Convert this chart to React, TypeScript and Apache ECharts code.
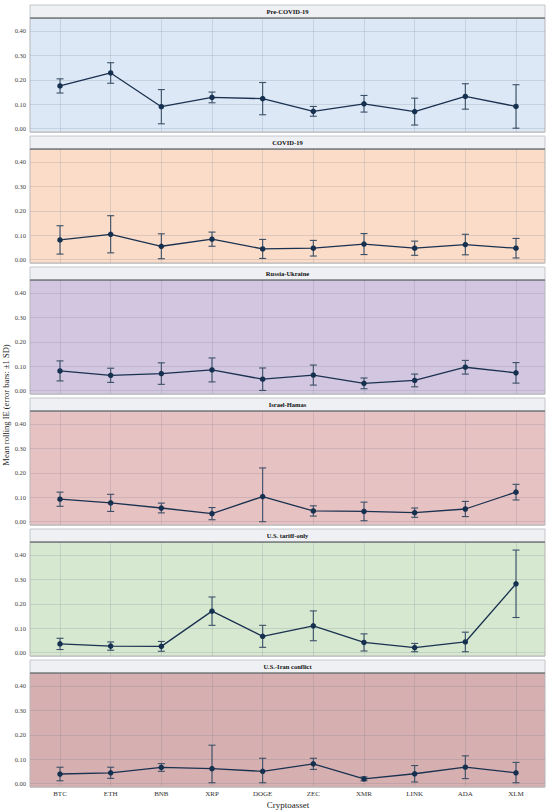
import React, { useEffect, useRef } from "react";
import * as echarts from "echarts";

const categories = ["BTC", "ETH", "BNB", "XRP", "DOGE", "ZEC", "XMR", "LINK", "ADA", "XLM"];
const panelTitles = ["Pre-COVID-19", "COVID-19", "Russia-Ukraine", "Israel-Hamas", "U.S. tariff-only", "U.S.-Iran conflict"];
const panelColors = ["#dde8f6", "#fadcc8", "#d3c6e0", "#e7c2c3", "#d7e8d1", "#d6b0b1"];

const preCovidMean = [0.175, 0.228, 0.090, 0.128, 0.123, 0.071, 0.102, 0.070, 0.132, 0.091];
const preCovidSd = [0.029, 0.042, 0.070, 0.022, 0.066, 0.020, 0.034, 0.055, 0.052, 0.089];
const covidMean = [0.081, 0.104, 0.055, 0.084, 0.044, 0.047, 0.064, 0.047, 0.062, 0.047];
const covidSd = [0.058, 0.076, 0.051, 0.029, 0.039, 0.032, 0.043, 0.029, 0.042, 0.040];
const russiaMean = [0.081, 0.063, 0.070, 0.085, 0.047, 0.064, 0.030, 0.042, 0.096, 0.073];
const russiaSd = [0.041, 0.029, 0.044, 0.049, 0.046, 0.041, 0.022, 0.026, 0.028, 0.042];
const israelMean = [0.092, 0.077, 0.056, 0.033, 0.103, 0.044, 0.042, 0.037, 0.052, 0.121];
const israelSd = [0.029, 0.035, 0.020, 0.025, 0.117, 0.021, 0.038, 0.019, 0.031, 0.032];
const tariffMean = [0.036, 0.027, 0.026, 0.170, 0.067, 0.110, 0.042, 0.021, 0.044, 0.282];
const tariffSd = [0.023, 0.017, 0.020, 0.058, 0.045, 0.061, 0.035, 0.017, 0.040, 0.138];
const iranMean = [0.036, 0.041, 0.063, 0.058, 0.047, 0.078, 0.016, 0.037, 0.064, 0.041];
const iranSd = [0.028, 0.023, 0.016, 0.097, 0.054, 0.023, 0.008, 0.034, 0.047, 0.043];

const means = [preCovidMean, covidMean, russiaMean, israelMean, tariffMean, iranMean];
const sds = [preCovidSd, covidSd, russiaSd, israelSd, tariffSd, iranSd];

const Y_MIN = -0.0135;
const Y_MAX = 0.453;
const SERIF = "'Liberation Serif', 'DejaVu Serif', serif";

export default function App() {
  const ref = useRef<HTMLDivElement>(null);
  useEffect(() => {
    if (!ref.current) return;
    const chart = echarts.init(ref.current, undefined, { renderer: "svg" });
    const grids: any[] = [];
    const xAxes: any[] = [];
    const yAxes: any[] = [];
    const series: any[] = [];
    const graphics: any[] = [];
    const pitch = 131;
    for (let i = 0; i < 6; i++) {
      const top = 18 + pitch * i;
      const isLast = i === 5;
      grids.push({
        left: 30, top, width: 515, height: 114, show: true,
        backgroundColor: panelColors[i], borderColor: "#b5b5b5", borderWidth: 1,
      });
      grids.push({ left: 60, top, width: 456, height: 114, show: false });
      xAxes.push({ gridIndex: 2 * i, type: "value", min: 0, max: 1, show: false });
      yAxes.push({
        gridIndex: 2 * i, type: "value", min: Y_MIN, max: Y_MAX, splitNumber: 5,
        axisLine: { show: false }, axisTick: { show: false },
        axisLabel: {
          showMinLabel: false, showMaxLabel: false, margin: 4,
          fontSize: 6.5, color: "#444", fontFamily: SERIF,
          formatter: (v: number) => {
            const r = Math.round(v * 10) / 10;
            return Math.abs(v - r) < 1e-6 ? r.toFixed(2) : "";
          },
        },
        splitLine: { show: true, lineStyle: { color: "rgba(90,100,120,0.16)", width: 1 } },
      });
      xAxes.push({
        gridIndex: 2 * i + 1, type: "value", min: 0, max: 9, interval: 1,
        axisLine: { show: false }, axisTick: { show: false },
        axisLabel: {
          show: isLast, margin: 4, fontSize: 7, color: "#333", fontFamily: SERIF,
          formatter: (v: number) => categories[Math.round(v)] ?? "",
        },
        splitLine: { show: true, lineStyle: { color: "rgba(90,100,120,0.16)", width: 1 } },
        name: isLast ? "Cryptoasset" : "",
        nameLocation: "middle", nameGap: 14,
        nameTextStyle: { fontSize: 9, color: "#222", fontFamily: SERIF },
      });
      yAxes.push({ gridIndex: 2 * i + 1, type: "value", min: Y_MIN, max: Y_MAX, show: false, splitLine: { show: false } });

      const m = means[i];
      const s = sds[i];
      series.push({
        type: "custom",
        xAxisIndex: 2 * i + 1, yAxisIndex: 2 * i + 1,
        data: m.map((v, j) => [j, Math.max(0, v - s[j]), v + s[j]]),
        renderItem: (params: any, api: any) => {
          const x = api.value(0);
          const lo = api.coord([x, api.value(1)]);
          const hi = api.coord([x, api.value(2)]);
          const cw = 3.5;
          const style = { stroke: "#3a4f66", lineWidth: 1.1 };
          return {
            type: "group",
            children: [
              { type: "line", shape: { x1: lo[0], y1: lo[1], x2: hi[0], y2: hi[1] }, style },
              { type: "line", shape: { x1: lo[0] - cw, y1: lo[1], x2: lo[0] + cw, y2: lo[1] }, style },
              { type: "line", shape: { x1: hi[0] - cw, y1: hi[1], x2: hi[0] + cw, y2: hi[1] }, style },
            ],
          };
        },
        z: 2,
        silent: true,
      });
      series.push({
        type: "line",
        xAxisIndex: 2 * i + 1, yAxisIndex: 2 * i + 1,
        data: m.map((v, j) => [j, v]),
        symbol: "circle", symbolSize: 5.5,
        itemStyle: { color: "#16304f" },
        lineStyle: { color: "#1a3150", width: 1.3 },
        z: 3,
        silent: true,
      });

      graphics.push({
        type: "rect", shape: { x: 30, y: 5 + pitch * i, width: 515, height: 13 },
        style: { fill: "#eef0f3", stroke: "#c4c7cc", lineWidth: 1 },
      });
      graphics.push({
        type: "line", shape: { x1: 30, y1: 18 + pitch * i, x2: 545, y2: 18 + pitch * i },
        style: { stroke: "#555555", lineWidth: 1 },
      });
      graphics.push({
        type: "text", x: 287.5, y: 11.5 + pitch * i,
        style: {
          text: panelTitles[i], textAlign: "center", textVerticalAlign: "middle",
          font: `bold 6.5px ${SERIF}`, fill: "#111",
        },
      });
    }
    graphics.push({
      type: "text", x: 6, y: 405, rotation: Math.PI / 2,
      style: {
        text: "Mean rolling IE (error bars: \u00b11 SD)", textAlign: "center", textVerticalAlign: "middle",
        font: `8.5px ${SERIF}`, fill: "#222",
      },
    });

    chart.setOption({
      animation: false,
      backgroundColor: "#ffffff",
      grid: grids,
      xAxis: xAxes,
      yAxis: yAxes,
      series,
      graphic: graphics,
    });
    return () => chart.dispose();
  }, []);
  return <div ref={ref} style={{ position: "absolute", left: 0, top: 0, width: 550, height: 810 }} />;
}
